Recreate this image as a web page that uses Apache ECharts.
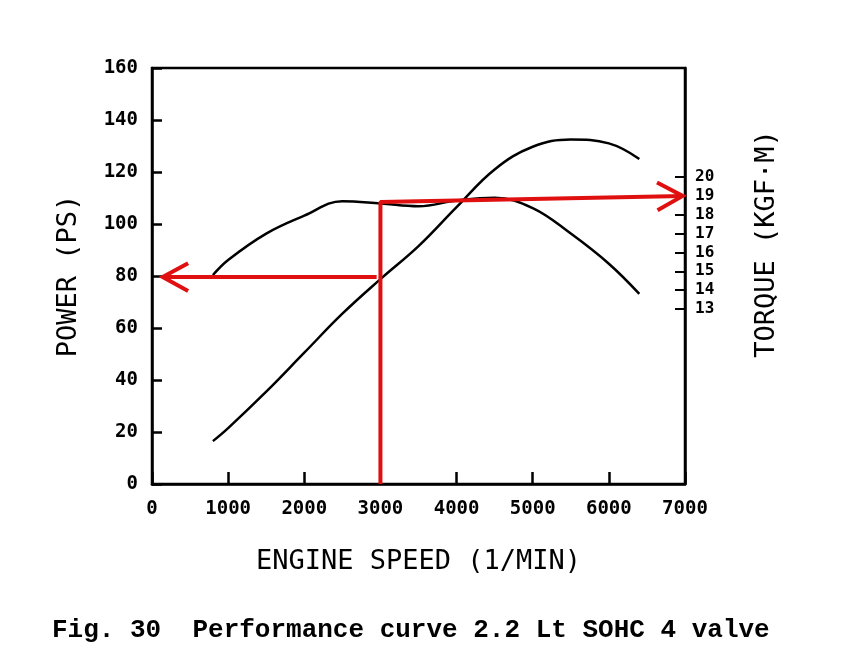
<!DOCTYPE html>
<html>
<head>
<meta charset="utf-8">
<script src="https://cdn.jsdelivr.net/npm/echarts@6/dist/echarts.min.js"></script>
<style>
  html, body { margin: 0; padding: 0; background: #fff; }
  #chart { width: 851px; height: 670px; }
</style>
</head>
<body>
<div id="chart"></div>
<script>
// performance curve

var rpm = [800, 1000, 1500, 2000, 2500, 3000, 3500, 4000, 4500, 5000, 5500, 6000, 6400];
// power, PS (left axis)
var power = [16.5, 21.5, 35.5, 50.5, 65.5, 78.8, 91.5, 106.5, 121, 129.7, 132.5, 131, 125];
// torque, kgf-m (right axis)
var torque = [14.8, 15.6, 17.0, 17.95, 18.72, 18.6, 18.45, 18.75, 18.9, 18.35, 17.0, 15.4, 13.8];

var torqueTicks = [13, 14, 15, 16, 17, 18, 19, 20];

// red reading lines (rpm, PS)
var readUp = [[3000, 0], [3000, 108.5], [6970, 110.8]];
var readLeft = [[2950, 79.6], [140, 79.6]];
// arrow tips: [tipRpm, tipPs, fromRpm, fromPs]
var arrowTips = [[6970, 110.8, 3000, 108.5], [140, 79.6, 2950, 79.6]];

var tickFont = { fontFamily: 'DejaVu Sans Mono', fontWeight: 'bold', color: '#000' };
var nameFont = { fontFamily: 'DejaVu Sans Mono', fontSize: 27, color: '#000' };

function pair(xs, ys) {
    return xs.map(function (x, i) { return [x, ys[i]]; });
}

var myChart = echarts.init(document.getElementById('chart'));

var option = {
    backgroundColor: '#fff',
    animation: false,
    title: {
        text: 'Fig. 30  Performance curve 2.2 Lt SOHC 4 valve',
        left: 47,
        top: 612,
        textStyle: { fontFamily: 'Liberation Mono', fontWeight: 'bold', fontSize: 26, color: '#000' }
    },
    grid: {
        left: 152, right: 166, top: 68, bottom: 186,
        show: true, borderColor: '#000', borderWidth: 2.5
    },
    xAxis: {
        type: 'value', min: 0, max: 7000, interval: 1000,
        axisLine: { lineStyle: { color: '#000', width: 2.5 } },
        axisTick: { inside: true, length: 12, lineStyle: { color: '#000', width: 2.5 } },
        axisLabel: Object.assign({ fontSize: 19, margin: 16, formatter: function (v) { return String(v); } }, tickFont),
        splitLine: { show: false },
        name: 'ENGINE SPEED (1/MIN)',
        nameLocation: 'middle',
        nameGap: 64,
        nameTextStyle: nameFont
    },
    yAxis: [{
        type: 'value', min: 0, max: 160, interval: 20,
        axisLine: { lineStyle: { color: '#000', width: 2.5 } },
        axisTick: { inside: true, length: 10, lineStyle: { color: '#000', width: 2.5 } },
        axisLabel: Object.assign({ fontSize: 19, margin: 14 }, tickFont),
        splitLine: { show: false },
        name: 'POWER (PS)',
        nameLocation: 'middle',
        nameGap: 70,
        nameTextStyle: nameFont
    }, {
        type: 'value', position: 'right', min: 3.72, max: 25.78,
        axisLine: { show: true, lineStyle: { color: '#000', width: 2.5 } },
        axisTick: { inside: true, length: 10, customValues: torqueTicks, lineStyle: { color: '#000', width: 2 } },
        axisLabel: Object.assign({ fontSize: 16, margin: 10, customValues: torqueTicks }, tickFont),
        splitLine: { show: false }
    }],
    graphic: [{
        type: 'text',
        x: 767, y: 244,
        rotation: Math.PI / 2,
        style: {
            text: 'TORQUE (KGF\u00b7M)',
            font: '27px "DejaVu Sans Mono"',
            fill: '#000',
            textAlign: 'center',
            textVerticalAlign: 'middle'
        }
    }],
    series: [{
        name: 'Power',
        type: 'line',
        smooth: 0.4,
        symbol: 'none',
        lineStyle: { color: '#000', width: 2.5 },
        data: pair(rpm, power)
    }, {
        name: 'Torque',
        type: 'line',
        yAxisIndex: 1,
        smooth: 0.4,
        symbol: 'none',
        lineStyle: { color: '#000', width: 2.5 },
        data: pair(rpm, torque)
    }, {
        type: 'line',
        symbol: 'none',
        lineStyle: { color: '#e01010', width: 4 },
        data: readUp,
        z: 5
    }, {
        type: 'line',
        symbol: 'none',
        lineStyle: { color: '#e01010', width: 4 },
        data: readLeft,
        z: 5
    }, {
        type: 'custom',
        z: 6,
        data: arrowTips,
        renderItem: function (params, api) {
            var tip = api.coord([api.value(0), api.value(1)]);
            var from = api.coord([api.value(2), api.value(3)]);
            var ang = Math.atan2(from[1] - tip[1], from[0] - tip[0]);
            var len = 29, spread = 0.5;
            var a = [tip[0] + len * Math.cos(ang + spread), tip[1] + len * Math.sin(ang + spread)];
            var b = [tip[0] + len * Math.cos(ang - spread), tip[1] + len * Math.sin(ang - spread)];
            return {
                type: 'polyline',
                shape: { points: [a, tip, b] },
                style: { stroke: '#e01010', lineWidth: 4, fill: null }
            };
        }
    }]
};

myChart.setOption(option);
</script>
</body>
</html>
